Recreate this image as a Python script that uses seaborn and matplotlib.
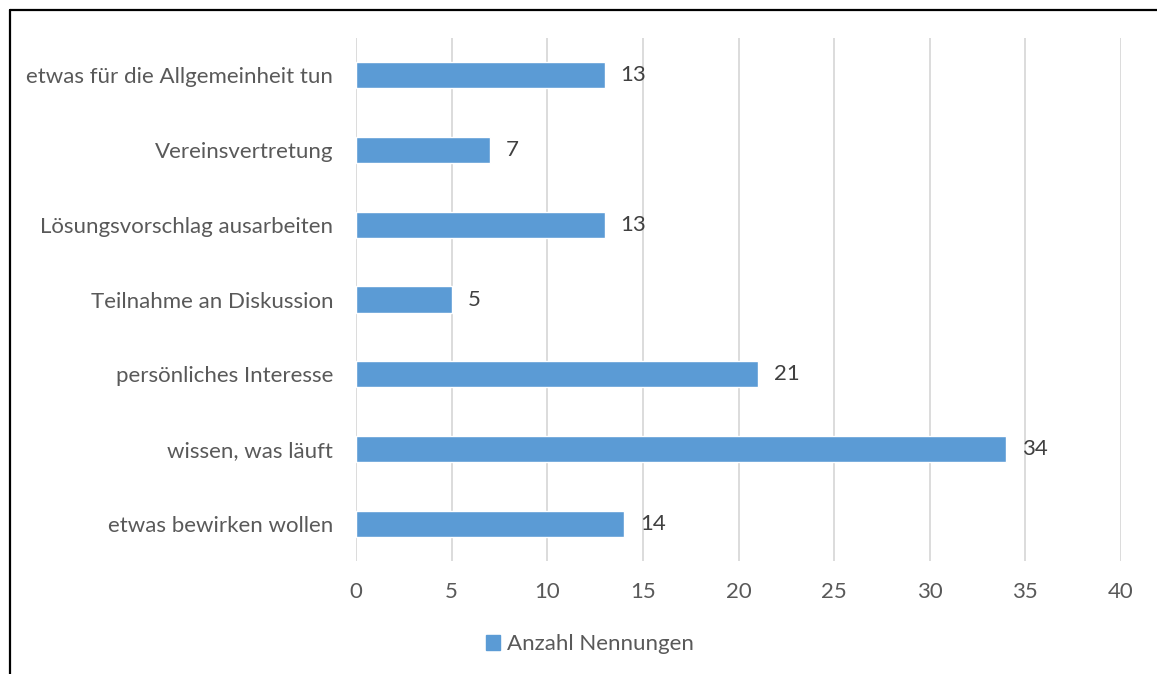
import matplotlib
matplotlib.use("Agg")
import matplotlib.pyplot as plt
import seaborn as sns
import pandas as pd
from matplotlib.lines import Line2D
from matplotlib.patches import Patch

categories = [
    "etwas für die Allgemeinheit tun",
    "Vereinsvertretung",
    "Lösungsvorschlag ausarbeiten",
    "Teilnahme an Diskussion",
    "persönliches Interesse",
    "wissen, was läuft",
    "etwas bewirken wollen",
]
values = [13, 7, 13, 5, 21, 34, 14]
series_name = "Anzahl Nennungen"
x_ticks = [0, 5, 10, 15, 20, 25, 30, 35, 40]

df = pd.DataFrame({"Kategorie": categories, "Wert": values})

sns.set_theme(style="white")
plt.rcParams["font.family"] = ["Lato", "DejaVu Sans"]

BAR = "#5B9BD5"
TXT = "#595959"
FS = 16

fig = plt.figure(figsize=(11.57, 6.74), dpi=100)
ax = fig.add_axes([356/1157, 1-561/674, (1121-356)/1157, (561-38)/674])

sns.barplot(data=df, x="Wert", y="Kategorie", order=categories, color=BAR,
            width=0.35, saturation=1, ax=ax, zorder=3)

ax.set_xlim(0, 40)
ax.set_xticks(x_ticks)
ax.set_xticklabels([str(t) for t in x_ticks])
ax.set_xlabel("")
ax.set_ylabel("")
for s in ax.spines.values():
    s.set_visible(False)
ax.grid(axis="x", color="#D9D9D9", linewidth=1.3, zorder=0)
ax.grid(axis="y", visible=False)
ax.set_axisbelow(True)
ax.tick_params(axis="x", length=0, pad=15, labelsize=FS, labelcolor=TXT)
ax.tick_params(axis="y", length=0, pad=16.5, labelsize=FS, labelcolor=TXT)

for i, v in enumerate(values):
    ax.annotate(str(v), xy=(v, i), xytext=(11.5, 0), textcoords="offset points",
                ha="left", va="center", fontsize=FS, color="#404040")

handles = [Patch(facecolor=BAR, edgecolor=BAR, label=series_name)]
fig.legend(handles=handles, loc="center", bbox_to_anchor=(590/1157, 1-644/674),
           frameon=False, fontsize=FS, handlelength=0.65, handleheight=0.65,
           handletextpad=0.3, labelcolor=TXT)

# figure border (top and left visible)
fig.add_artist(Line2D([9.5/1157, 1.0], [1-9.5/674, 1-9.5/674], color="black", linewidth=1.6, transform=fig.transFigure))
fig.add_artist(Line2D([9.5/1157, 9.5/1157], [0, 1-9.5/674], color="black", linewidth=1.6, transform=fig.transFigure))

fig.savefig("out.png", dpi=100)
